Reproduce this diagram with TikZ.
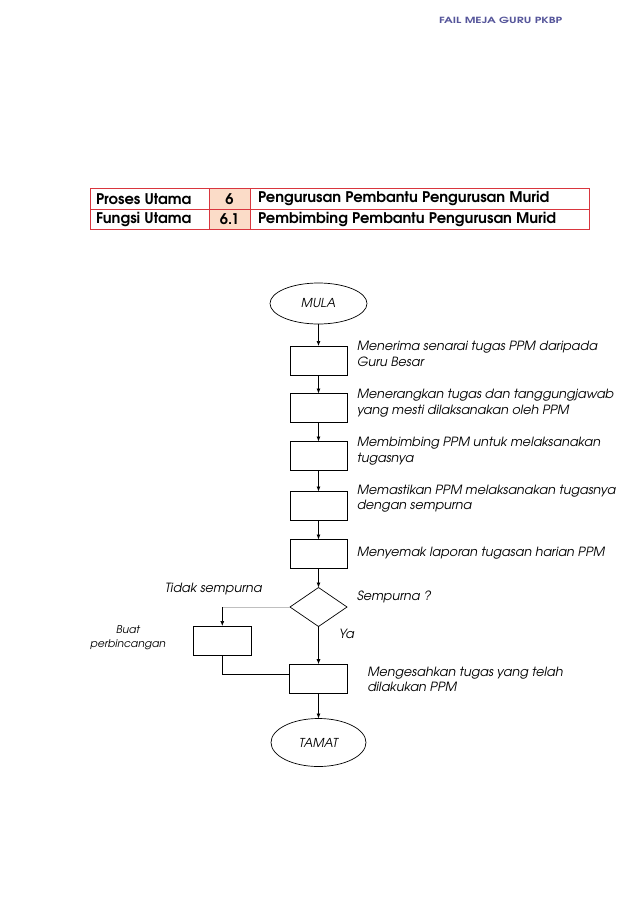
\documentclass[tikz,border=0pt]{standalone}
\usepackage{fontspec}
\setmainfont{texgyreadventor}[Extension=.otf, UprightFont=*-regular, BoldFont=*-bold, ItalicFont=*-italic, BoldItalicFont=*-bolditalic]
\usetikzlibrary{arrows.meta,shapes.geometric}
\definecolor{tabred}{HTML}{D9363E}
\definecolor{peach}{HTML}{FBDCC8}
\definecolor{hdr}{HTML}{55559A}
\begin{document}
\begin{tikzpicture}[x=1pt,y=-1pt,
  every node/.style={inner sep=0pt, outer sep=0pt},
  term/.style={draw, ellipse, line width=0.7pt, minimum width=97pt, minimum height=41pt, font=\itshape\fontsize{12.3}{14}\selectfont},
  procbox/.style={draw, rectangle, line width=0.7pt, minimum width=57pt, minimum height=29pt},
  decbox/.style={draw, diamond, line width=0.7pt, minimum width=57pt, minimum height=39pt, aspect=1.46},
  lbl/.style={anchor=west, align=left, font=\itshape\fontsize{12.7}{15.5}\selectfont},
  smlbl/.style={align=center, font=\itshape\fontsize{10.7}{14}\selectfont},
  tabtxt/.style={anchor=west, font=\bfseries\fontsize{14.7}{16}\selectfont},
  tabnum/.style={font=\bfseries\fontsize{14.7}{16}\selectfont},
  arr/.style={line width=0.7pt, -{Latex[length=5pt,width=4pt]}},
  ln/.style={line width=0.7pt}
]
\useasboundingbox (0,0) rectangle (638,903);
\fill[white] (0,0) rectangle (638,903);

% header
\node[anchor=west, font=\bfseries\fontsize{8.5}{9}\selectfont, text=hdr] (hdrtxt) at (439,20.5) {\scalebox{1.4}[1]{FAIL MEJA GURU PKBP}};

% table
\fill[peach] (209.3,188.3) rectangle (250,229.3);
\draw[tabred, line width=0.8pt] (90,188.3) rectangle (589.3,229.3);
\draw[tabred, line width=0.8pt] (90,209) -- (589.3,209);
\draw[tabred, line width=0.8pt] (209.3,188.3) -- (209.3,229.3);
\draw[tabred, line width=0.8pt] (250,188.3) -- (250,229.3);
\node[tabtxt] (t11) at (96,198.7) {Proses Utama};
\node[tabnum] (t12) at (229.6,198.7) {6};
\node[tabtxt] (t13) at (258,198.7) {Pengurusan Pembantu Pengurusan Murid};
\node[tabtxt] (t21) at (96,219.3) {Fungsi Utama};
\node[tabnum] (t22) at (229.6,219.3) {6.1};
\node[tabtxt] (t23) at (258,219.3) {Pembimbing Pembantu Pengurusan Murid};

% flowchart nodes
\node[term] (mula) at (318.5,303.5) {MULA};
\node[procbox] (b1) at (318.5,360.5) {};
\node[procbox] (b2) at (318.5,408) {};
\node[procbox] (b3) at (318.5,456) {};
\node[procbox] (b4) at (318.5,506) {};
\node[procbox] (b5) at (318.5,554) {};
\node[decbox] (dia) at (318.5,607) {};
\node[procbox, minimum width=58pt] (buat) at (222.3,640.5) {};
\node[procbox, minimum width=58pt] (fin) at (318.5,678.7) {};
\node[term, minimum width=95pt, minimum height=48pt] (tamat) at (318.5,742.5) {TAMAT};
\coordinate (tc) at (222.3,607);

% connectors
\draw[arr] (mula) -- (b1);
\draw[arr] (b1) -- (b2);
\draw[arr] (b2) -- (b3);
\draw[arr] (b3) -- (b4);
\draw[arr] (b4) -- (b5);
\draw[arr] (b5) -- (dia);
\draw[arr] (dia.south) -- (fin);
\draw[line width=0.5pt, black!25] (dia.west) -- (tc);
\draw[arr] (tc) -- (buat.north);
\draw[ln] (buat.south) |- ([yshift=4.7pt]fin.west);
\draw[arr] (fin) -- (tamat);

% labels
\node[lbl] (l1) at (357,354) {Menerima senarai tugas PPM daripada\\Guru Besar};
\node[lbl] (l2) at (357,403) {Menerangkan tugas dan tanggungjawab\\yang mesti dilaksanakan oleh PPM};
\node[lbl] (l3) at (357,451) {Membimbing PPM untuk melaksanakan\\tugasnya};
\node[lbl] (l4) at (357,498.5) {Memastikan PPM melaksanakan tugasnya\\dengan sempurna};
\node[lbl] (l5) at (357,553.5) {Menyemak laporan tugasan harian PPM};
\node[lbl] (l6) at (357,597) {Sempurna ?};
\node[lbl, anchor=east] (l7) at (262,589) {Tidak sempurna};
\node[lbl] (l8) at (339,634) {Ya};
\node[smlbl] (l9) at (128,638) {Buat\\perbincangan};
\node[lbl] (l10) at (367.5,679.5) {Mengesahkan tugas yang telah\\dilakukan PPM};
\end{tikzpicture}
\end{document}
